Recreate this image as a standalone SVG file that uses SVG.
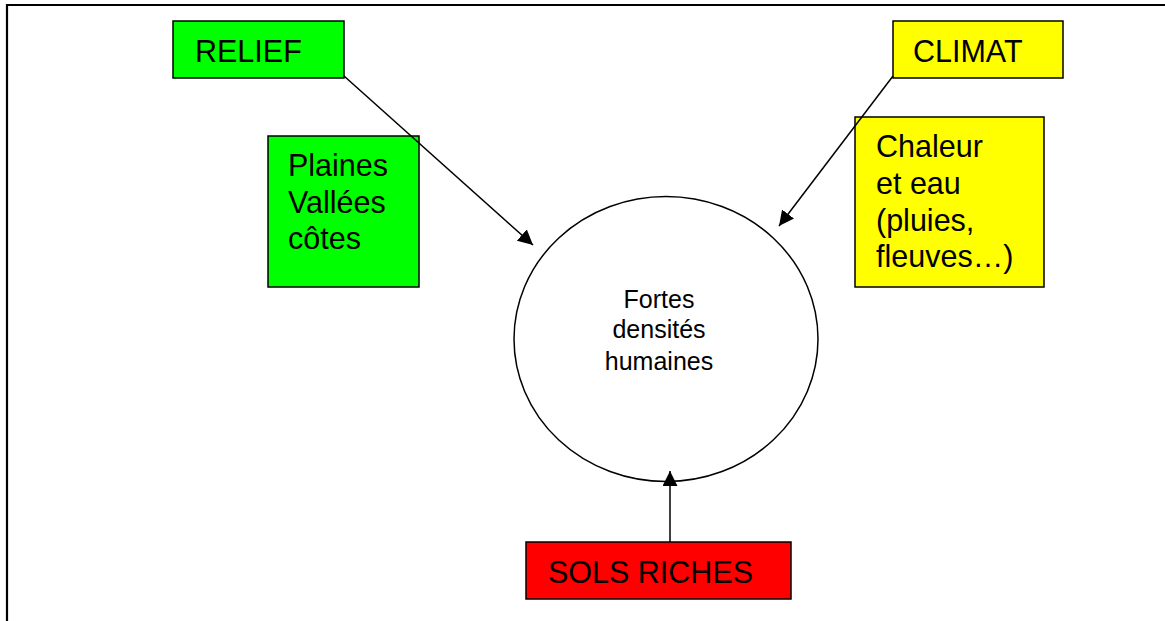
<svg xmlns="http://www.w3.org/2000/svg" width="1165" height="621" viewBox="0 0 1165 621">
<style>
.box{stroke:#000;stroke-width:1.5}
.t{font-family:"Liberation Sans",Arial,sans-serif;font-size:30.5px;fill:#000}
.c{font-family:"Liberation Sans",Arial,sans-serif;font-size:25px;fill:#000;text-anchor:middle}
.conn{stroke:#000;stroke-width:1.5;fill:none;marker-end:url(#ah)}
</style>
<defs>
<marker id="ah" viewBox="0 0 10 10" refX="10" refY="5" markerWidth="15" markerHeight="15" markerUnits="userSpaceOnUse" orient="auto">
<path d="M0,0 L10,5 L0,10 z" fill="#000"/>
</marker>
</defs>
<rect width="1165" height="621" fill="#fff"/>
<path d="M7,622 L7,5 L1166,5" fill="none" stroke="#000" stroke-width="2.2"/>
<g id="relief">
<rect class="box" x="173" y="21" width="171" height="57" fill="#00ff00"/>
<text class="t" x="195" y="62">RELIEF</text>
</g>
<g id="plaines">
<rect class="box" x="268" y="136" width="151" height="151" fill="#00ff00"/>
<text class="t" x="288" y="176">Plaines</text>
<text class="t" x="288" y="212.5">Vallées</text>
<text class="t" x="288" y="249">côtes</text>
</g>
<g id="climat">
<rect class="box" x="893" y="21" width="170" height="57" fill="#ffff00"/>
<text class="t" x="913" y="62">CLIMAT</text>
</g>
<g id="chaleur">
<rect class="box" x="855" y="117" width="189" height="170" fill="#ffff00"/>
<text class="t" x="876" y="157">Chaleur</text>
<text class="t" x="876" y="194">et eau</text>
<text class="t" x="876" y="230.5">(pluies,</text>
<text class="t" x="876" y="267">fleuves…)</text>
</g>
<g id="densites">
<ellipse cx="666" cy="339" rx="152" ry="142.5" fill="none" stroke="#000" stroke-width="1.5"/>
<text class="c" x="659" y="308">Fortes</text>
<text class="c" x="659" y="338">densités</text>
<text class="c" x="659" y="370">humaines</text>
</g>
<g id="sols">
<rect class="box" x="526" y="542" width="265" height="57" fill="#ff0000"/>
<text class="t" x="548" y="583">SOLS RICHES</text>
</g>
<g id="connectors">
<line class="conn" x1="344" y1="76" x2="533" y2="245"/>
<line class="conn" x1="893" y1="76" x2="779" y2="226"/>
<line class="conn" x1="670" y1="542" x2="670" y2="471"/>
</g>
</svg>
